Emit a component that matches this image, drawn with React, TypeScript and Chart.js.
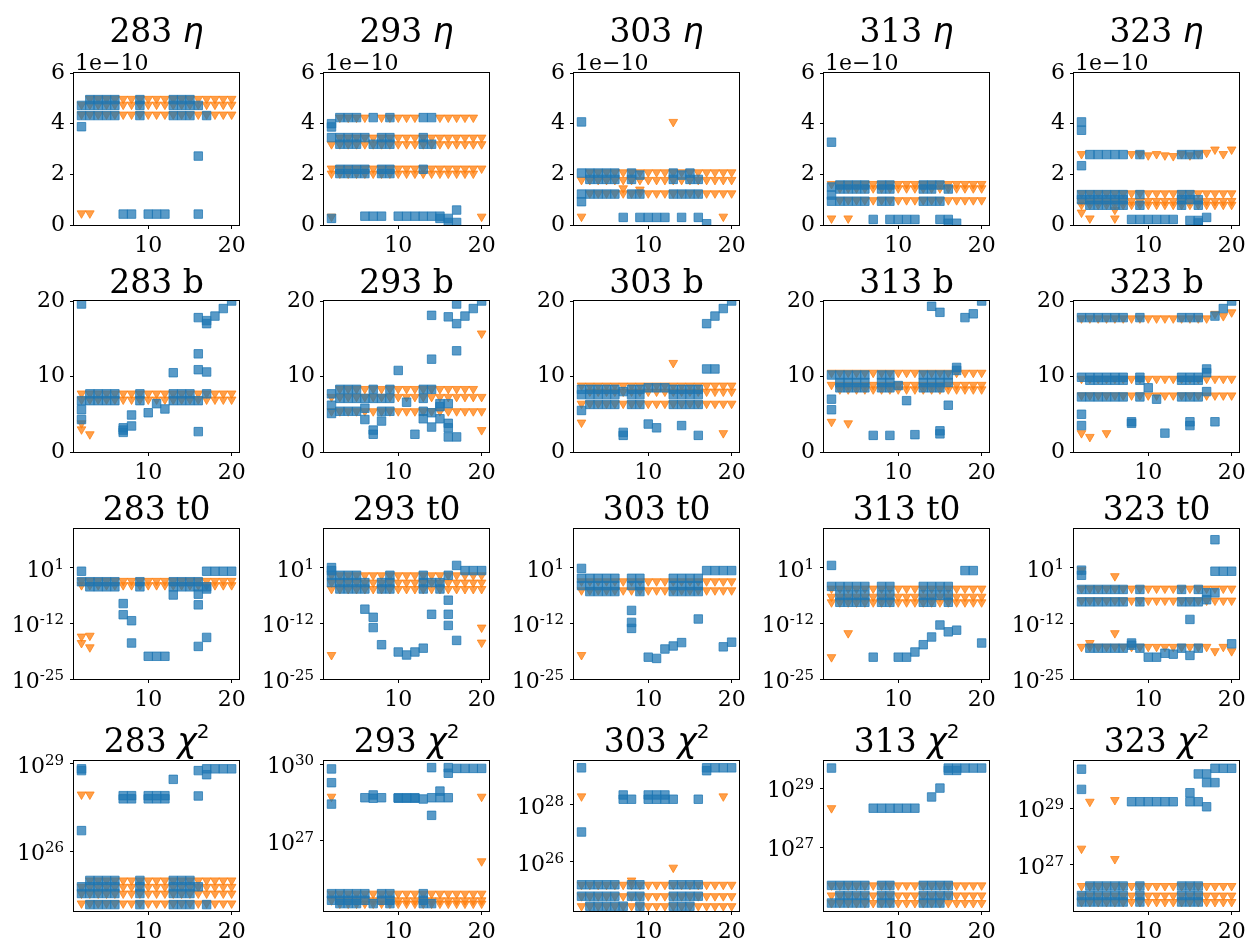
import React, { useEffect, useRef } from "react";
import { Chart, registerables } from "chart.js";
Chart.register(...registerables);

type Row = [number, number[]];

// ---------- categories / ticks ----------
const TEMPS = ["283", "293", "303", "313", "323"];
const ALL = [2, 3, 4, 5, 6, 7, 8, 9, 10, 11, 12, 13, 14, 15, 16, 17, 18, 19, 20];
const FROM3 = [3, 4, 5, 6, 7, 8, 9, 10, 11, 12, 13, 14, 15, 16, 17, 18, 19, 20];
const X_LIM = [1.1, 20.9];
const X_TICKS = [10, 20];
const ETA_LIM = [0, 6];
const ETA_TICKS = [0, 2, 4, 6];
const B_LIM = [0, 20];
const B_TICKS = [0, 10, 20];
const T0_LIM_EXP = [-25, 10];
const T0_TICK_EXP = [-25, -12, 1];
const CHI_LIM_EXP = [[23.95, 29.1], [24.25, 30.13], [24.28, 29.54], [24.83, 29.92], [25.35, 30.69]];
const CHI_TICK_EXP = [[26, 29], [27, 30], [26, 28], [27, 29], [27, 29]];

// ---------- row 1: eta (x 1e-10) ----------
const eta283Sq: Row[] = [
  [4.95, [3, 4, 5, 6, 9, 13, 14, 15]],
  [4.72, [2, 3, 4, 5, 6, 9, 13, 14, 15, 16]],
  [4.32, [2, 3, 4, 5, 6, 9, 13, 14, 15, 17]],
  [3.88, [2]], [2.72, [16]],
  [0.43, [7, 8, 10, 11, 12, 16]],
];
const eta283Tri: Row[] = [
  [4.98, FROM3], [4.75, ALL], [4.36, ALL], [0.46, [2, 3]],
];
const eta293Sq: Row[] = [
  [4.0, [2]], [3.87, [2]],
  [4.24, [3, 4, 5, 7, 9, 13, 14]],
  [3.45, [2, 3, 4, 5, 6, 8, 9, 13]],
  [3.19, [3, 4, 5, 7, 8, 9, 13, 14]],
  [2.2, [3, 4, 5, 6, 8, 9, 13]],
  [2.03, [3, 4, 5, 6, 8, 9]],
  [0.35, [6, 7, 8, 10, 11, 12, 13, 14, 15]],
  [0.26, [2, 15, 16]], [0.1, [16, 17]], [0.59, [17]],
];
const eta293Tri: Row[] = [
  [4.24, [3, 4, 5, 6, 8, 9, 10, 11, 12, 15, 16, 17, 18, 19]],
  [3.45, FROM3], [3.19, ALL], [2.23, ALL], [2.03, [2, 3, 4, 5, 6, 7, 8, 9, 10, 11, 12, 13, 14, 15, 16, 17, 18, 19]],
  [0.33, [2, 20]],
];
const eta303Sq: Row[] = [
  [4.07, [2]],
  [2.05, [2, 3, 4, 5, 6, 8, 13, 15]],
  [1.97, [9, 14]],
  [1.8, [3, 4, 5, 6, 8, 13, 15, 16]],
  [1.22, [2, 3, 4, 5, 6, 8, 9, 13, 14, 15, 16]],
  [0.92, [2]],
  [0.3, [7, 9, 10, 11, 12, 14, 16]],
  [0.05, [17]],
];
const eta303Tri: Row[] = [
  [2.08, FROM3], [1.78, ALL], [1.25, FROM3],
  [1.45, [7]], [1.4, [9]], [4.07, [13]], [0.33, [2, 19]],
];
const eta313Sq: Row[] = [
  [3.27, [2]],
  [1.58, [3, 4, 5, 6, 8, 9, 13, 14, 15]],
  [1.42, [3, 4, 5, 6, 8, 9, 13, 14, 16]],
  [1.5, [2]], [1.18, [2]],
  [0.94, [2, 3, 4, 5, 6, 8, 9, 13, 14, 15]],
  [0.22, [7, 9, 10, 11, 12, 15, 16]],
  [0.07, [16, 17]],
];
const eta313Tri: Row[] = [
  [1.62, ALL], [1.45, FROM3], [0.98, FROM3], [0.26, [2, 4]],
];
const eta323Sq: Row[] = [
  [4.07, [2]], [3.74, [2]], [2.34, [2]],
  [2.78, [3, 4, 5, 6, 7, 9, 14, 15, 16]],
  [1.2, [2, 3, 4, 5, 6, 7, 9, 14, 15]],
  [1.0, [2, 3, 4, 5, 6, 7, 14, 15, 16]],
  [0.78, [3, 4, 5, 6, 7, 9, 14, 16]],
  [0.22, [8, 9, 10, 11, 12, 13]],
  [0.18, [15, 16]], [0.08, [16]], [0.3, [17]],
];
const eta323Tri: Row[] = [
  [2.8, [2, 8, 9, 11, 14, 16, 19]], [2.75, [10, 12, 15]], [2.72, [13]],
  [2.85, [17]], [2.98, [18, 20]],
  [1.25, ALL], [0.95, ALL], [0.8, ALL],
  [0.49, [2]], [0.26, [3, 6]], [0.6, [6]],
];

// ---------- row 2: b ----------
const b283Sq: Row[] = [
  [19.6, [2]],
  [7.7, [3, 4, 5, 6, 9, 13, 14, 15, 17]],
  [6.8, [2, 3, 4, 5, 6, 9, 13, 14, 15, 16]],
  [5.6, [2]], [4.3, [2]],
  [3.2, [7]], [2.9, [7]], [2.6, [7]],
  [4.9, [8]], [3.45, [8]],
  [5.2, [10]], [6.4, [11]], [5.7, [12]], [10.5, [13]],
  [17.8, [16]], [13.0, [16]], [10.9, [16]], [2.7, [16]],
  [17.4, [17]], [17.0, [17]], [10.6, [17]],
  [18.0, [18]], [19.0, [19]], [20.0, [20]],
];
const b283Tri: Row[] = [
  [7.75, ALL], [6.95, ALL], [3.8, [2]], [3.0, [2]], [2.35, [3]],
];
const b293Sq: Row[] = [
  [7.7, [2]], [6.2, [2]], [5.1, [2]],
  [8.3, [3, 4, 5, 7, 9, 13, 14]],
  [7.1, [3, 4, 5, 6, 7, 8, 9, 13]],
  [5.4, [3, 4, 5, 8, 9, 13]],
  [5.8, [6]], [4.3, [6]], [2.9, [7]], [2.35, [7]], [4.1, [8]],
  [10.8, [10]], [6.6, [11]], [2.35, [12]], [4.4, [13]],
  [18.1, [14]], [12.3, [14]], [5.2, [14]], [3.3, [14]],
  [6.4, [15, 16]], [4.4, [15]], [6.0, [15]],
  [17.9, [16]], [3.8, [16]], [3.2, [16]], [2.0, [16]],
  [19.6, [17]], [17.0, [17]], [13.4, [17]], [2.0, [17]],
  [18.0, [18]], [19.0, [19]], [20.0, [20]],
];
const b293Tri: Row[] = [
  [8.35, [3, 4, 5, 6, 7, 8, 9, 10, 11, 12, 13, 14, 15, 16, 17, 18, 19]],
  [7.3, ALL], [5.4, ALL], [15.7, [20]], [2.9, [20]],
];
const b303Sq: Row[] = [
  [8.3, [2, 3, 4, 5, 6, 8, 9, 13, 14, 15, 16]],
  [7.6, [2, 3, 4, 5, 6, 8, 9, 13, 14, 15, 16]],
  [6.3, [3, 4, 5, 6, 8, 9, 13, 14, 15, 16]],
  [5.5, [2]], [8.0, [7]], [2.6, [7]], [2.2, [7]],
  [8.5, [10, 11, 12]], [3.7, [10]], [3.2, [11]], [3.5, [14]], [2.2, [16]],
  [17.0, [17]], [11.0, [17, 18]], [18.0, [18]], [19.0, [19]], [20.0, [20]],
];
const b303Tri: Row[] = [
  [8.8, ALL], [8.0, FROM3], [6.4, ALL], [3.9, [2]], [11.8, [13]], [2.5, [19]],
];
const b313Sq: Row[] = [
  [10.2, [2, 3, 4, 5, 6, 8, 9, 13, 14, 15, 16]],
  [9.2, [3, 4, 5, 6, 8, 9, 13, 14, 15, 16]],
  [8.5, [3, 4, 5, 6, 8, 9, 13, 14, 15]],
  [7.0, [2]], [5.6, [2]], [2.2, [7, 9]], [8.8, [10]], [6.8, [11]], [2.3, [12]],
  [19.3, [14]], [18.5, [15]], [2.8, [15]], [2.4, [15]], [6.2, [16]],
  [11.2, [17]], [10.8, [17]], [17.8, [18]], [18.3, [19]], [20.0, [20]],
];
const b313Tri: Row[] = [
  [10.5, ALL], [8.9, ALL], [8.3, FROM3], [4.0, [2]], [3.8, [4]],
];
const b323Sq: Row[] = [
  [17.8, [2, 3, 4, 5, 6, 7, 9, 14, 15, 16]],
  [9.9, [2, 3, 4, 5, 6, 7, 9, 14, 15, 16]],
  [9.5, [3, 4, 5, 6, 7, 9, 14, 15, 16]],
  [7.3, [2, 3, 4, 5, 6, 7, 9, 14, 15, 16]],
  [5.0, [2]], [3.5, [2]], [4.0, [8]], [3.8, [8]], [8.5, [10]], [7.0, [11]], [2.5, [12]],
  [3.5, [15]], [4.0, [15]], [11.0, [17]], [10.5, [17]], [8.0, [17]],
  [4.0, [18]], [18.0, [18]], [19.0, [19]], [20.0, [20]],
];
const b323Tri: Row[] = [
  [17.7, [2, 3, 4, 5, 6, 7, 8, 9, 10, 11, 12, 13, 14, 15, 16, 17]],
  [9.7, ALL], [7.5, ALL], [2.5, [2, 5]], [2.0, [3]], [18.3, [18]], [18.0, [19]], [18.5, [20]],
];

// ---------- row 3: t0 (log10 values) ----------
const t0283Sq: Row[] = [
  [0.15, [2, 17, 18, 19, 20]],
  [-2.3, [2, 3, 4, 5, 6, 9, 13, 14, 15, 16]],
  [-3.5, [3, 4, 5, 6, 9, 13, 14, 15, 16, 17]],
  [-7.4, [7]], [-10.0, [7]], [-11.4, [8]], [-16.6, [8]],
  [-19.7, [10, 11, 12]], [-5.4, [13]],
  [-5.2, [16]], [-7.7, [16]], [-17.4, [16]], [-4.0, [17]], [-15.3, [17]],
];
const t0283Tri: Row[] = [
  [-2.1, ALL], [-3.1, ALL], [-15.1, [2]], [-16.6, [2]], [-14.9, [3]], [-17.6, [3]],
];
const t0293Sq: Row[] = [
  [1.0, [2]], [0.3, [2, 18, 19, 20]],
  [-0.8, [2, 3, 4, 5, 9, 13, 16]],
  [-2.5, [2, 3, 4, 5, 6, 8, 9, 13, 14, 15]],
  [-4.0, [3, 4, 5, 6, 8, 9, 13, 15]],
  [-8.7, [6]], [-10.6, [7]], [-13.0, [7]], [-17.0, [8]],
  [-18.7, [10, 12]], [-19.4, [11]], [-17.8, [13]], [-9.9, [14]],
  [-6.6, [16]], [-9.9, [16]], [-12.5, [16]], [1.5, [17]], [-16.0, [17]],
];
const t0293Tri: Row[] = [
  [-0.8, ALL], [-2.5, ALL], [-4.0, ALL], [-19.4, [2]], [-13.0, [20]], [-16.5, [20]],
];
const t0303Sq: Row[] = [
  [0.8, [2]],
  [-1.5, [2, 3, 4, 5, 6, 8, 9, 13, 14, 15, 16]],
  [-3.2, [2, 3, 4, 5, 6, 8, 9, 13, 14, 15, 16]],
  [-4.6, [3, 4, 5, 6, 9, 13, 14, 15, 16]],
  [-9.0, [8]], [-11.8, [8]], [-13.2, [8]],
  [-19.9, [10]], [-20.2, [11]], [-18.0, [12]], [-17.3, [13]], [-16.5, [14]], [-11.0, [16]],
  [0.3, [17, 18, 19, 20]], [-17.5, [19]], [-16.4, [20]],
];
const t0303Tri: Row[] = [
  [-2.2, ALL], [-4.3, ALL], [-19.4, [2]],
];
const t0313Sq: Row[] = [
  [1.5, [2]],
  [-3.4, [2, 3, 4, 5, 6, 8, 9, 13, 14, 15, 16]],
  [-5.5, [3, 4, 5, 6, 8, 9, 13, 14, 15, 16]],
  [-7.1, [3, 4, 5, 6, 8, 9, 13, 14, 16]],
  [-19.9, [7, 10, 11]], [-18.7, [12]], [-17.0, [13]], [-15.2, [14]], [-12.4, [15]],
  [-14.0, [16]], [-13.6, [17]], [0.3, [18, 19]], [-16.6, [20]],
];
const t0313Tri: Row[] = [
  [-3.9, ALL], [-5.8, ALL], [-7.1, ALL], [-19.9, [2]], [-14.3, [4]],
];
const t0323Sq: Row[] = [
  [0.4, [2]], [-0.8, [2]],
  [-4.1, [2, 3, 4, 5, 6, 7, 9, 14, 16]],
  [-7.0, [2, 3, 4, 5, 6, 7, 9, 14, 15, 16]],
  [-17.8, [3, 4, 5, 6, 7, 9, 14, 16]],
  [-16.6, [8]], [-17.1, [8]], [-19.9, [10, 11]], [-19.0, [12]], [-19.2, [13]],
  [-11.1, [15]], [-19.5, [15]], [-4.9, [17, 18]], [-6.5, [17]],
  [7.5, [18]], [0.15, [18, 19, 20]], [-16.8, [20]],
];
const t0323Tri: Row[] = [
  [-3.9, ALL], [-6.7, ALL],
  [-17.5, [2, 3, 4, 5, 6, 7, 8, 9, 10, 11, 12, 13, 14, 15, 16, 17, 19]],
  [0.4, [2]], [-16.6, [3]], [-1.0, [6]], [-14.3, [6]], [-18.5, [18, 20]],
];

// ---------- row 4: chi^2 (log10 values) ----------
const chi283Sq: Row[] = [
  [28.83, [2, 17, 18, 19, 20]], [28.77, [2, 16]], [26.71, [2]],
  [25.0, [3, 4, 5, 6, 9, 13, 14, 15]],
  [24.78, [2, 3, 4, 5, 6, 9, 13, 14, 15, 16]],
  [24.55, [2, 3, 4, 5, 6, 9, 13, 14, 15]],
  [24.17, [3, 4, 5, 6, 9, 13, 14, 15, 17]],
  [27.91, [7, 8, 10, 11, 12]], [27.8, [7, 8, 10, 11, 12]],
  [28.47, [13]], [27.9, [16]], [28.63, [17]],
];
const chi283Tri: Row[] = [
  [27.95, [2, 3]], [25.0, FROM3], [24.78, ALL], [24.55, ALL], [24.21, ALL],
];
const chi293Sq: Row[] = [
  [29.82, [2]], [29.28, [2]], [28.44, [2]],
  [24.93, [2, 3, 4, 5, 6, 8, 9, 13]],
  [24.67, [2, 3, 4, 5, 6, 8, 9, 13]],
  [24.54, [3, 4, 5, 7, 9, 13, 14]],
  [28.69, [6, 8, 10, 11, 12, 14, 15, 16]], [28.8, [7]], [28.67, [7, 10, 11, 12]], [28.64, [13]],
  [29.87, [14, 16]], [28.0, [14]], [28.95, [15]], [29.65, [16]],
  [29.84, [17, 18, 19, 20]],
];
const chi293Tri: Row[] = [
  [28.73, [2, 20]], [26.2, [20]], [24.93, ALL], [24.67, ALL], [24.54, FROM3],
];
const chi303Sq: Row[] = [
  [29.3, [2, 17, 18, 19, 20]], [29.2, [17]], [27.05, [2]],
  [25.2, [2, 3, 4, 5, 6, 8, 9, 13, 14, 15, 16]],
  [24.8, [2, 3, 4, 5, 6, 8, 9, 13, 14, 15, 16]],
  [24.45, [3, 4, 5, 6, 7, 9, 13, 14, 15]],
  [28.35, [7, 10, 11, 12]], [28.2, [7, 8, 10, 11, 12, 13, 16]],
];
const chi303Tri: Row[] = [
  [28.3, [2, 19]], [25.8, [13]], [25.35, [8]], [25.2, ALL], [24.8, ALL], [24.45, ALL],
];
const chi313Sq: Row[] = [
  [29.68, [2, 16, 17, 18, 19, 20]], [29.6, [16, 17]],
  [25.7, [2, 3, 4, 5, 6, 8, 9, 13, 14, 15, 16]],
  [25.36, [3, 4, 5, 6, 8, 9, 13, 14, 15, 16]],
  [25.1, [2, 3, 4, 5, 6, 8, 9, 13, 14, 15]],
  [28.32, [7, 8, 9, 10, 11, 12]], [28.7, [14]], [29.0, [15]],
];
const chi313Tri: Row[] = [
  [28.32, [2]], [25.7, ALL], [25.36, ALL], [25.1, ALL],
];
const chi323Sq: Row[] = [
  [30.4, [2]], [29.68, [2]],
  [26.24, [3, 4, 5, 6, 7, 9, 14, 15, 16]],
  [25.9, [2, 3, 4, 5, 6, 7, 9, 14, 15, 16]],
  [25.67, [2, 3, 4, 5, 6, 7, 9, 14, 15, 16]],
  [29.24, [8, 9, 10, 11, 12, 13, 15, 16]], [29.56, [15]],
  [30.23, [16, 17]], [29.92, [17, 18]], [29.06, [17]], [30.43, [18, 19, 20]],
];
const chi323Tri: Row[] = [
  [27.57, [2]], [29.24, [3]], [29.3, [6]], [27.2, [6]],
  [26.24, ALL], [25.9, ALL], [25.67, ALL],
];

// ---------- panel table ----------
type Kind = "eta" | "b" | "t0" | "chi";
type Panel = { row: number; col: number; kind: Kind; sq: Row[]; tri: Row[] };
const KINDS: Kind[] = ["eta", "b", "t0", "chi"];
const SQ: Row[][][] = [
  [eta283Sq, eta293Sq, eta303Sq, eta313Sq, eta323Sq],
  [b283Sq, b293Sq, b303Sq, b313Sq, b323Sq],
  [t0283Sq, t0293Sq, t0303Sq, t0313Sq, t0323Sq],
  [chi283Sq, chi293Sq, chi303Sq, chi313Sq, chi323Sq],
];
const TRI: Row[][][] = [
  [eta283Tri, eta293Tri, eta303Tri, eta313Tri, eta323Tri],
  [b283Tri, b293Tri, b303Tri, b313Tri, b323Tri],
  [t0283Tri, t0293Tri, t0303Tri, t0313Tri, t0323Tri],
  [chi283Tri, chi293Tri, chi303Tri, chi313Tri, chi323Tri],
];
const PANELS: Panel[] = [];
for (let r = 0; r < 4; r++)
  for (let c = 0; c < 5; c++) PANELS.push({ row: r, col: c, kind: KINDS[r], sq: SQ[r][c], tri: TRI[r][c] });

// ---------- layout / style ----------
const PLOT_LEFT0 = 74;
const COL_PITCH = 250;
const PLOT_W = 168;
const ROW_TOPS = [73, 301, 529, 761];
const ROW_H = [152, 151, 150, 150];
const TITLE_GAP = [31, 8, 9, 9];
const YW = 72, PR = 8, PT = 64, XH = 40;
const SERIF = '"DejaVu Serif", serif';
const TICK_SIZE = 22;
const SUP_SIZE = 15;
const TITLE_SIZE = 33;
const BLUE_FILL = "rgba(31,119,180,0.74)";
const BLUE_EDGE = "rgba(31,119,180,0.74)";
const ORANGE_FILL = "rgba(255,127,14,0.75)";
const ORANGE_EDGE = "rgba(255,127,14,0.75)";

function toPoints(rows: Row[], log: boolean) {
  const pts: { x: number; y: number }[] = [];
  for (const [y, xs] of rows) for (const x of xs) pts.push({ x, y: log ? Math.pow(10, y) : y });
  return pts;
}

type Part = { t: string; font: string; dy?: number };
function titleParts(p: Panel): Part[] {
  const base = `${TITLE_SIZE}px ${SERIF}`;
  const ital = `italic ${TITLE_SIZE}px "DejaVu Sans"`;
  const head = { t: TEMPS[p.col] + " ", font: base };
  if (p.kind === "eta") return [head, { t: "\u03b7", font: ital }];
  if (p.kind === "b") return [head, { t: "b", font: base }];
  if (p.kind === "t0") return [head, { t: "t0", font: base }];
  return [head, { t: "\u03c7", font: ital }, { t: "2", font: `20px "DejaVu Sans"`, dy: -14 }];
}

function PanelChart({ p }: { p: Panel }) {
  const ref = useRef<HTMLCanvasElement>(null);
  const left = PLOT_LEFT0 + COL_PITCH * p.col - YW;
  const top = ROW_TOPS[p.row] - PT;
  const width = YW + PLOT_W + PR;
  const height = PT + ROW_H[p.row] + XH;

  useEffect(() => {
    const log = p.kind === "t0" || p.kind === "chi";
    let yMin = 0, yMax = 1, yTicks: number[] = [], tickExp: number[] = [];
    if (p.kind === "eta") { yMin = ETA_LIM[0]; yMax = ETA_LIM[1]; yTicks = ETA_TICKS; }
    else if (p.kind === "b") { yMin = B_LIM[0]; yMax = B_LIM[1]; yTicks = B_TICKS; }
    else if (p.kind === "t0") {
      yMin = Math.pow(10, T0_LIM_EXP[0]); yMax = Math.pow(10, T0_LIM_EXP[1]);
      tickExp = T0_TICK_EXP;
      yTicks = tickExp.map((e) => Math.pow(10, e));
    } else {
      yMin = Math.pow(10, CHI_LIM_EXP[p.col][0]); yMax = Math.pow(10, CHI_LIM_EXP[p.col][1]);
      tickExp = CHI_TICK_EXP[p.col];
      yTicks = tickExp.map((e) => Math.pow(10, e));
    }

    const decor = {
      id: "decor",
      afterDraw(chart: any) {
        const { ctx, chartArea: a } = chart;
        ctx.save();
        ctx.strokeStyle = "#000";
        ctx.lineWidth = 1;
        ctx.strokeRect(Math.round(a.left) - 0.5, Math.round(a.top) - 0.5,
          Math.round(a.right - a.left) + 1, Math.round(a.bottom - a.top) + 1);
        ctx.fillStyle = "#000";
        ctx.textBaseline = "alphabetic";
        // log tick labels with real superscripts
        if (log) {
          const ys = chart.scales.y;
          tickExp.forEach((e, i) => {
            const py = ys.getPixelForValue(yTicks[i]);
            const exp = String(e);
            ctx.font = `${SUP_SIZE}px ${SERIF}`;
            const we = ctx.measureText(exp).width;
            const xr = a.left - 10;
            ctx.textAlign = "right";
            ctx.fillText(exp, xr, py + 1);
            ctx.font = `${TICK_SIZE}px ${SERIF}`;
            ctx.fillText("10", xr - we, py + 9);
          });
        }
        ctx.textAlign = "left";
        // title
        const parts = titleParts(p);
        let total = 0;
        const ws = parts.map((pt) => { ctx.font = pt.font; const w = ctx.measureText(pt.t).width; total += w; return w; });
        let x = (a.left + a.right) / 2 - total / 2;
        const yb = a.top - TITLE_GAP[p.row];
        parts.forEach((pt, i) => { ctx.font = pt.font; ctx.fillText(pt.t, x, yb + (pt.dy || 0)); x += ws[i]; });
        if (p.kind === "eta") {
          ctx.font = `${TICK_SIZE}px ${SERIF}`;
          ctx.fillText("1e\u221210", a.left + 1, a.top - 3);
        }
        ctx.restore();
      },
    };

    const tickFont = { family: SERIF, size: TICK_SIZE };
    const chart = new Chart(ref.current!, {
      type: "scatter",
      data: {
        datasets: [
          {
            data: toPoints(p.sq, log),
            pointStyle: "rect",
            pointRadius: 6,
            pointHoverRadius: 6,
            pointBackgroundColor: BLUE_FILL,
            pointBorderColor: BLUE_EDGE,
            pointBorderWidth: 1,
          },
          {
            data: toPoints(p.tri, log),
            pointStyle: "triangle",
            pointRotation: 180,
            pointRadius: 5,
            pointHoverRadius: 5,
            pointBackgroundColor: ORANGE_FILL,
            pointBorderColor: ORANGE_EDGE,
            pointBorderWidth: 1,
          },
        ],
      },
      options: {
        responsive: false,
        animation: false,
        events: [],
        devicePixelRatio: 1,
        layout: { padding: { top: PT, right: PR, left: 0, bottom: 0 }, autoPadding: false },
        plugins: { legend: { display: false }, tooltip: { enabled: false }, title: { display: false } },
        scales: {
          x: {
            type: "linear",
            min: X_LIM[0],
            max: X_LIM[1],
            afterBuildTicks: (s: any) => { s.ticks = X_TICKS.map((v) => ({ value: v })); },
            afterFit: (s: any) => { s.height = XH; },
            grid: { drawOnChartArea: false, drawTicks: true, tickLength: 4, tickColor: "#000", tickWidth: 1 },
            border: { display: false },
            ticks: { color: "#000", font: tickFont, padding: 4, maxRotation: 0, autoSkip: false, callback: (v: any) => String(v) },
          },
          y: {
            type: log ? "logarithmic" : "linear",
            min: yMin,
            max: yMax,
            afterBuildTicks: (s: any) => { s.ticks = yTicks.map((v) => ({ value: v })); },
            afterFit: (s: any) => { s.width = YW; },
            grid: { drawOnChartArea: false, drawTicks: true, tickLength: 4, tickColor: "#000", tickWidth: 1 },
            border: { display: false },
            ticks: {
              display: !log,
              color: "#000", font: tickFont, padding: 5, autoSkip: false,
              callback: (v: any) => String(v),
            },
          },
        },
      } as any,
      plugins: [decor],
    });
    return () => chart.destroy();
  }, [p]);

  return (
    <canvas
      ref={ref}
      width={width}
      height={height}
      style={{ position: "absolute", left, top, width, height }}
    />
  );
}

export default function App() {
  return (
    <div style={{ position: "fixed", left: 0, top: 0, width: 1251, height: 942, background: "#fff", overflow: "hidden" }}>
      {PANELS.map((p) => (
        <PanelChart key={`${p.row}-${p.col}`} p={p} />
      ))}
    </div>
  );
}
